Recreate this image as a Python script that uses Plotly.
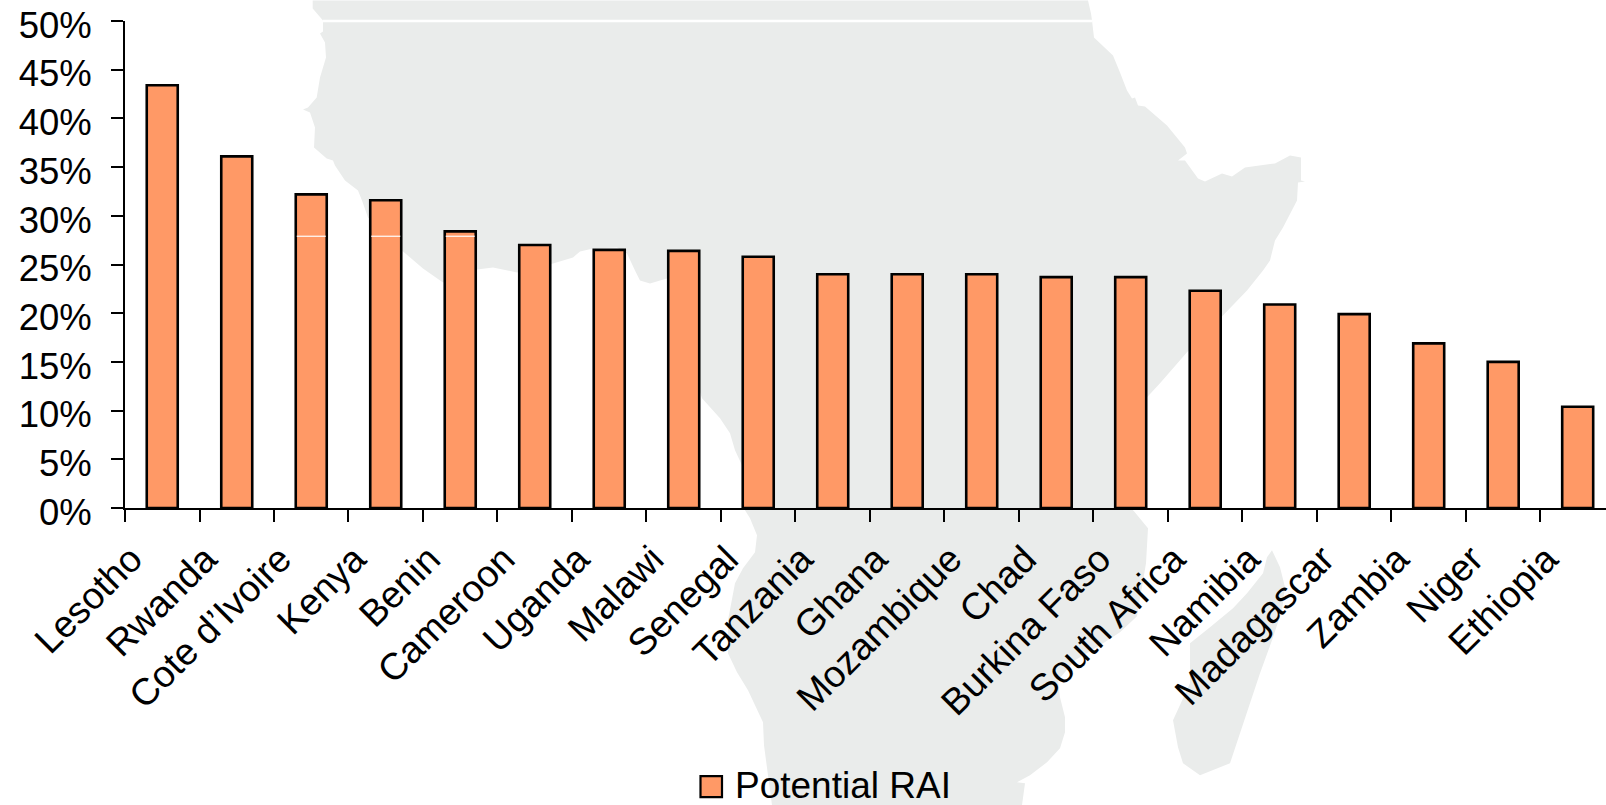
import plotly.graph_objects as go

WIDTH, HEIGHT = 1606, 805
LEFT, TOP, BOTTOM_Y = 125, 20.5, 507.7

countries = ["Lesotho", "Rwanda", "Cote d’Ivoire", "Kenya", "Benin", "Cameroon", "Uganda",
             "Malawi", "Senegal", "Tanzania", "Ghana", "Mozambique", "Chad", "Burkina Faso",
             "South Africa", "Namibia", "Madagascar", "Zambia", "Niger", "Ethiopia"]
potential_rai = [43.4, 36.1, 32.2, 31.6, 28.4, 27.0, 26.5, 26.4, 25.8, 24.0,
                 24.0, 24.0, 23.7, 23.7, 22.3, 20.9, 19.9, 16.9, 15.0, 10.4]
y_ticks = [0, 5, 10, 15, 20, 25, 30, 35, 40, 45, 50]
y_tick_labels = [f"{v}%" for v in y_ticks]

# Backdrop silhouette of the continent, as page pixel outlines.
mainland = [
    (312.7, 0), (312.7, 8), (323, 20), (323, 31), (320, 33), (325, 42), (326, 57), (320, 77),
    (316.7, 97), (308, 107), (303, 109), (310, 112), (315, 127), (314, 147), (326.7, 158),
    (333, 160), (335, 165), (345, 180), (358, 190), (362, 200), (368, 217), (385, 235),
    (403, 251), (423, 268), (443, 282), (460, 277), (477, 269), (493, 267), (517, 272),
    (535, 268), (553, 263), (573, 257), (580, 251), (593, 248), (617, 247), (627, 253),
    (635, 270), (640, 280), (650, 283), (660, 280), (667, 278), (680, 330), (702, 398),
    (720, 418), (730, 433), (735, 450), (742, 465), (745, 510), (750, 518), (757, 535),
    (755, 552), (743, 568), (735, 583), (728, 620), (728, 653), (737, 672), (748, 690),
    (763, 722), (764, 745), (768, 775), (772, 805), (1022, 805), (1025, 783), (1017, 782),
    (1030, 775), (1047, 762), (1060, 748), (1065, 732), (1065, 717), (1060, 697), (1058, 680),
    (1075, 660), (1100, 645), (1120, 632), (1137, 616), (1146, 563), (1148, 528), (1134, 511),
    (1130, 507), (1147, 397), (1160, 383), (1187, 352), (1220, 318), (1247, 290), (1263, 270),
    (1270, 260), (1275, 240), (1283, 227), (1297, 200), (1298, 182), (1305, 181), (1301, 180),
    (1301, 157), (1290, 155), (1275, 163), (1245, 167), (1232, 176), (1222, 173), (1205, 181),
    (1198, 178), (1185, 160), (1178, 160), (1187, 153), (1185, 147), (1167, 125), (1145, 106),
    (1138, 105), (1135, 97), (1132, 98), (1127, 90), (1120, 72), (1113, 55), (1094, 37),
    (1092, 20), (1091, 13), (1088, 0),
]
madagascar = [
    (1272, 550), (1280, 567), (1285, 587), (1282, 610), (1272, 640), (1260, 673), (1240, 733),
    (1230, 763), (1200, 775), (1183, 763), (1178, 747), (1173, 720), (1190, 683), (1190, 643),
    (1210, 627), (1233, 608), (1247, 593), (1263, 573), (1267, 557),
]

PLOT_W = WIDTH - LEFT
PLOT_H = BOTTOM_Y - TOP


def paper_x(px):
    return (px - LEFT) / PLOT_W


def paper_y(py):
    return (BOTTOM_Y - py) / PLOT_H


def outline(points):
    head, *rest = points
    path = f"M{paper_x(head[0])},{paper_y(head[1])}"
    path += "".join(f"L{paper_x(x)},{paper_y(y)}" for x, y in rest)
    return path + "Z"


MAP_GREY = "#EAECEB"
BAR_FILL = "#FF9966"
shapes = [
    dict(type="path", path=outline(pts), xref="paper", yref="paper",
         fillcolor=MAP_GREY, line=dict(width=0), layer="below")
    for pts in (mainland, madagascar)
]
# Thin white rule along the top of the map.
shapes.append(dict(type="line", xref="paper", yref="paper", x0=paper_x(323), x1=paper_x(1092),
                   y0=1, y1=1, line=dict(color="white", width=2.5), layer="below"))
# Short white rules crossing three of the bars.
for i in (2, 3, 4):
    shapes.append(dict(type="line", xref="x", yref="y", x0=i - 0.195, x1=i + 0.195,
                       y0=27.9, y1=27.9, line=dict(color="white", width=1.2), layer="above"))
# Legend key.
shapes.append(dict(type="rect", xref="paper", yref="paper",
                   x0=paper_x(700.5), x1=paper_x(722), y0=paper_y(776), y1=paper_y(797),
                   fillcolor=BAR_FILL, line=dict(color="black", width=2.2)))

fig = go.Figure(go.Bar(
    x=countries, y=potential_rai, name="Potential RAI", width=0.416,
    marker=dict(color=BAR_FILL, line=dict(color="black", width=2.6)),
    showlegend=False,
))
fig.update_layout(
    width=WIDTH, height=HEIGHT,
    margin=dict(l=LEFT, r=0, t=TOP, b=HEIGHT - BOTTOM_Y, pad=0),
    paper_bgcolor="white", plot_bgcolor="rgba(0,0,0,0)",
    font=dict(family="Liberation Sans, Arial, sans-serif", size=36, color="black"),
    shapes=shapes,
    annotations=[dict(text="Potential RAI", xref="paper", yref="paper", showarrow=False,
                      x=paper_x(733), y=paper_y(785), xanchor="left", yanchor="middle",
                      font=dict(size=37, color="black"))],
)
fig.update_xaxes(
    type="category", categoryorder="array", categoryarray=countries,
    range=[-0.5, 19.38], tickson="boundaries", ticks="outside", ticklen=12, tickwidth=2,
    tickcolor="black", showline=True, linecolor="black", linewidth=2, showgrid=False,
    zeroline=False, tickangle=-45, ticklabelshift=-31, ticklabelstandoff=12, automargin=False,
    tickfont=dict(size=37.5),
)
fig.update_yaxes(
    range=[0, 50], tickvals=y_ticks, ticktext=y_tick_labels, ticks="outside", ticklen=12,
    tickwidth=2, tickcolor="black", showline=True, linecolor="black", linewidth=2,
    showgrid=False, zeroline=False, automargin=False, ticklabelstandoff=12, ticklabelshift=4,
    tickfont=dict(size=36.5),
)
fig.write_html("out.html", config=dict(displayModeBar=False))
